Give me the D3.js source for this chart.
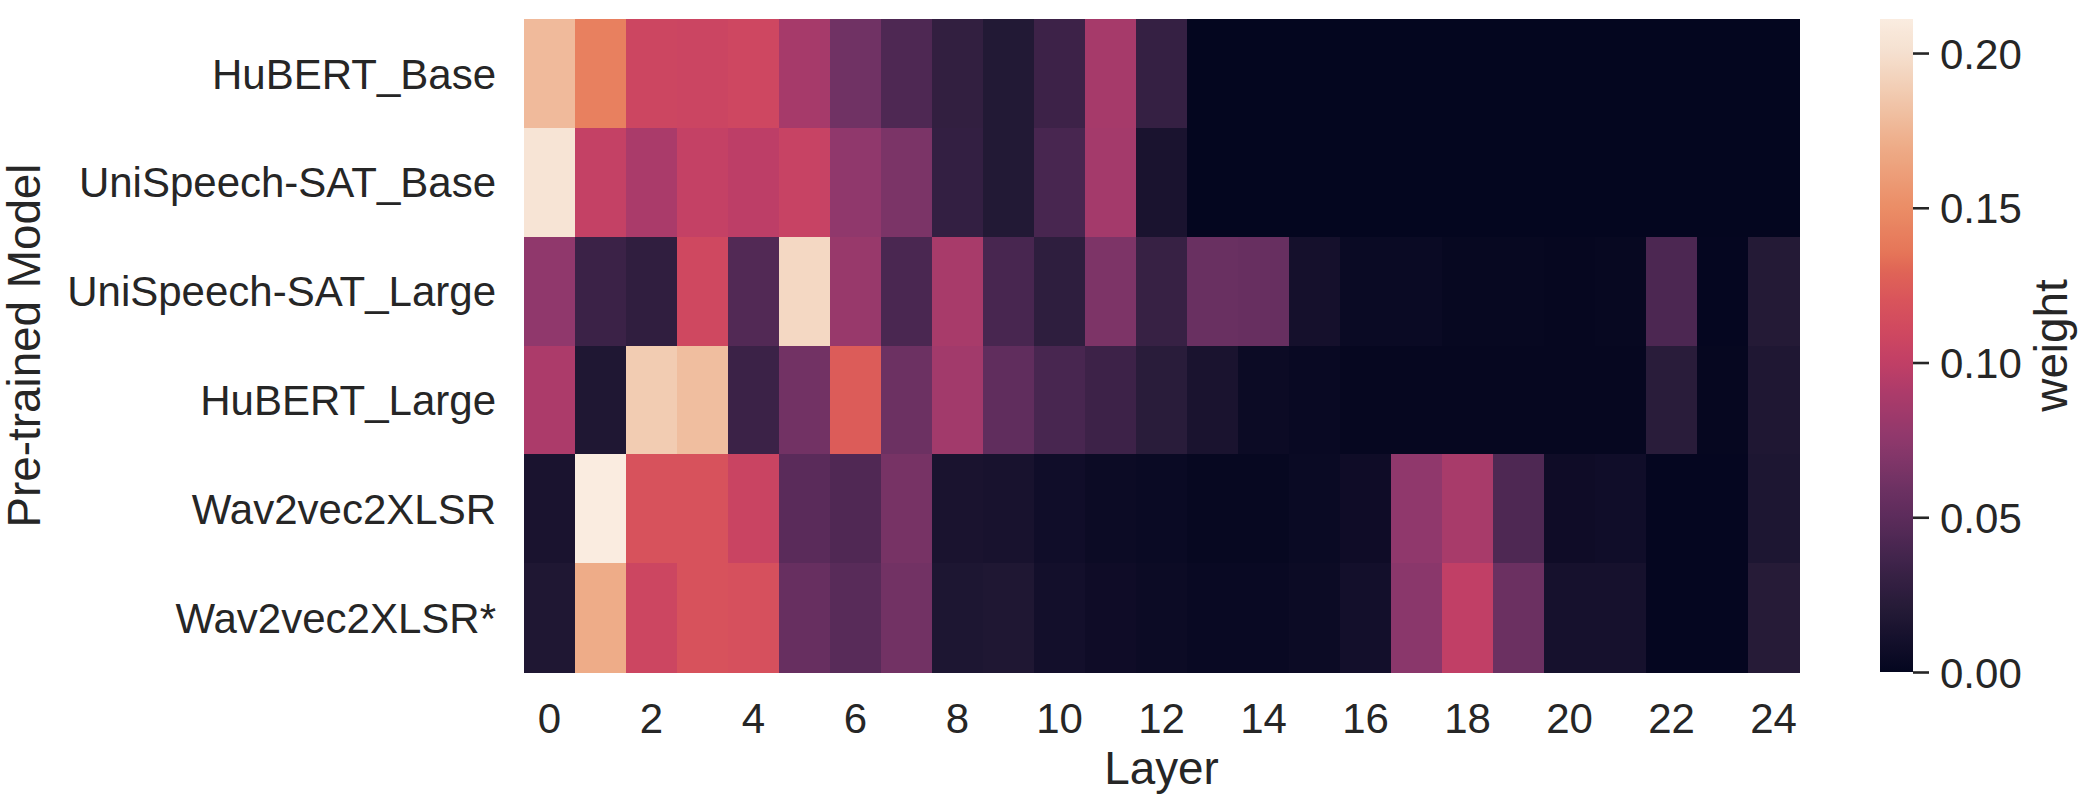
<!DOCTYPE html>
<html>
<head>
<meta charset="utf-8">
<script src="https://cdn.jsdelivr.net/npm/d3@7"></script>
<style>
  html, body { margin: 0; padding: 0; background: #ffffff; }
  svg { display: block; }
  text { font-family: "Liberation Sans", Arial, sans-serif; fill: #262626; }
</style>
</head>
<body>
<svg id="chart" width="2092" height="800"></svg>
<script>
// ---------- data ----------
const models = ["HuBERT_Base", "UniSpeech-SAT_Base", "UniSpeech-SAT_Large", "HuBERT_Large", "Wav2vec2XLSR", "Wav2vec2XLSR*"];
const layers = [0,1,2,3,4,5,6,7,8,9,10,11,12,13,14,15,16,17,18,19,20,21,22,23,24];
const xTickLabels = ["0","2","4","6","8","10","12","14","16","18","20","22","24"];
const cbarTicks = [0.00, 0.05, 0.10, 0.15, 0.20];

const hubertBase        = [0.178, 0.142, 0.108, 0.107, 0.109, 0.087, 0.061, 0.043, 0.028, 0.019, 0.034, 0.087, 0.030, 0, 0, 0, 0, 0, 0, 0, 0, 0, 0, 0, 0];
const unispeechSatBase  = [0.204, 0.102, 0.089, 0.102, 0.098, 0.104, 0.076, 0.066, 0.029, 0.019, 0.040, 0.086, 0.014, 0, 0, 0, 0, 0, 0, 0, 0, 0, 0, 0, 0];
const unispeechSatLarge = [0.076, 0.033, 0.027, 0.110, 0.045, 0.195, 0.080, 0.041, 0.088, 0.040, 0.026, 0.067, 0.031, 0.057, 0.056, 0.011, 0.004, 0.004, 0.002, 0.002, 0.001, 0.002, 0.042, 0.0005, 0.020];
const hubertLarge       = [0.090, 0.017, 0.188, 0.180, 0.033, 0.062, 0.125, 0.059, 0.085, 0.052, 0.040, 0.034, 0.023, 0.014, 0.005, 0.003, 0.001, 0.001, 0.001, 0.001, 0.001, 0.001, 0.023, 0.001, 0.017];
const wav2vec2XLSR      = [0.014, 0.211, 0.118, 0.118, 0.106, 0.049, 0.044, 0.064, 0.014, 0.013, 0.008, 0.005, 0.004, 0.002, 0.002, 0.004, 0.007, 0.076, 0.088, 0.043, 0.007, 0.008, 0.0005, 0.0005, 0.016];
const wav2vec2XLSRStar  = [0.017, 0.170, 0.108, 0.118, 0.117, 0.056, 0.048, 0.062, 0.016, 0.017, 0.010, 0.007, 0.005, 0.003, 0.003, 0.005, 0.010, 0.073, 0.100, 0.058, 0.012, 0.012, 0.0005, 0.0005, 0.021];

const weights = [hubertBase, unispeechSatBase, unispeechSatLarge, hubertLarge, wav2vec2XLSR, wav2vec2XLSRStar];

// ---------- layout ----------
const svg = d3.select("#chart");
const plot = { left: 524, right: 1799, top: 19, bottom: 672 };
const cbar = { left: 1880, right: 1913 };
const tickFont = 42, labelFont = 45.8;

const x = d3.scaleBand().domain(layers).range([plot.left, plot.right]).padding(0);
const y = d3.scaleBand().domain(models).range([plot.top, plot.bottom]).padding(0);

const vmax = d3.max(weights, r => d3.max(r));

// "rocket"-style colormap, as it appears in the reference
const cmapStops  = [0, 0.047, 0.095, 0.142, 0.190, 0.237, 0.284, 0.355, 0.427, 0.474, 0.521, 0.569, 0.616, 0.640, 0.711, 0.806, 0.877, 0.948, 1];
const cmapColors = ["#04061f", "#130f2b", "#241a36", "#352043", "#482650", "#5c2c5b", "#6e3163", "#8e386c",
                    "#ac3b6a", "#c13f66", "#cf4860", "#d9545b", "#e06556", "#e57458", "#eb8d66", "#eeac88",
                    "#f1c7ab", "#f5e0cf", "#faece0"];
const color = d3.scaleLinear()
  .domain(cmapStops.map(t => t * vmax))
  .range(cmapColors)
  .interpolate(d3.interpolateRgb)
  .clamp(true);

// ---------- cells ----------
const cells = [];
models.forEach((m, i) => layers.forEach((l, j) => cells.push({ model: m, layer: l, v: weights[i][j] })));

svg.append("g")
  .attr("shape-rendering", "crispEdges")
  .selectAll("rect")
  .data(cells)
  .join("rect")
  .attr("x", d => x(d.layer))
  .attr("y", d => y(d.model))
  .attr("width", x.bandwidth() + 0.5)
  .attr("height", y.bandwidth() + 0.5)
  .attr("fill", d => color(d.v));

// ---------- axes ----------
const xAxis = d3.axisBottom(x)
  .tickValues(layers.filter(l => xTickLabels.includes(String(l))))
  .tickSize(0).tickPadding(0);
const gx = svg.append("g").attr("transform", `translate(0,${plot.bottom})`).call(xAxis);
gx.select(".domain").remove();
gx.selectAll("text")
  .attr("y", 61).attr("dy", 0)
  .style("font-size", tickFont + "px")
  .style("font-family", "Liberation Sans, Arial, sans-serif")
  .attr("fill", "#262626");

const yAxis = d3.axisLeft(y).tickSize(0).tickPadding(0);
const gy = svg.append("g").attr("transform", `translate(${plot.left},0)`).call(yAxis);
gy.select(".domain").remove();
gy.selectAll("text")
  .attr("x", -28).attr("dy", "0.36em")
  .style("font-size", tickFont + "px")
  .style("font-family", "Liberation Sans, Arial, sans-serif")
  .attr("fill", "#262626");

svg.append("text")
  .attr("x", (plot.left + plot.right) / 2).attr("y", 784)
  .attr("text-anchor", "middle")
  .style("font-size", labelFont + "px")
  .text("Layer");

svg.append("text")
  .attr("transform", `translate(40,${(plot.top + plot.bottom) / 2}) rotate(-90)`)
  .attr("text-anchor", "middle")
  .style("font-size", labelFont + "px")
  .text("Pre-trained Model");

// ---------- colorbar ----------
const cScale = d3.scaleLinear().domain([0, vmax]).range([plot.bottom, plot.top]);
const defs = svg.append("defs");
const grad = defs.append("linearGradient")
  .attr("id", "cbarGrad")
  .attr("x1", 0).attr("y1", 1).attr("x2", 0).attr("y2", 0);
d3.range(0, 1.0001, 0.01).forEach(t => {
  grad.append("stop").attr("offset", t).attr("stop-color", color(t * vmax));
});
svg.append("rect")
  .attr("x", cbar.left).attr("y", plot.top)
  .attr("width", cbar.right - cbar.left).attr("height", plot.bottom - plot.top)
  .attr("fill", "url(#cbarGrad)");

const cAxis = d3.axisRight(cScale).tickValues(cbarTicks).tickFormat(d3.format(".2f")).tickSize(16).tickPadding(11);
const gc = svg.append("g").attr("transform", `translate(${cbar.right},0)`).call(cAxis);
gc.select(".domain").remove();
gc.selectAll(".tick line").attr("stroke", "#262626").attr("stroke-width", 2.6);
gc.selectAll("text")
  .style("font-size", tickFont + "px")
  .style("font-family", "Liberation Sans, Arial, sans-serif")
  .attr("fill", "#262626")
  .attr("dy", "0.36em");

svg.append("text")
  .attr("transform", `translate(2067,${(plot.top + plot.bottom) / 2}) rotate(-90)`)
  .attr("text-anchor", "middle")
  .style("font-size", labelFont + "px")
  .text("weight");
</script>
</body>
</html>
